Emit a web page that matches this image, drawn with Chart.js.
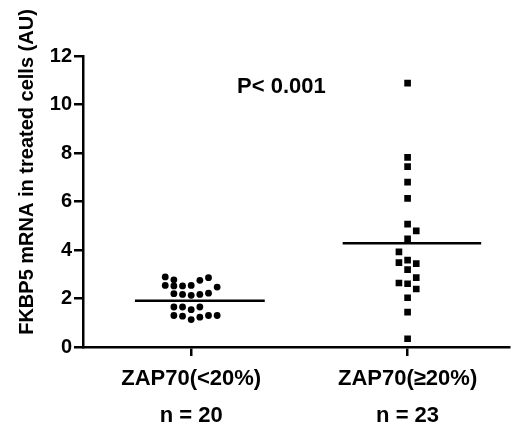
<!DOCTYPE html>
<html>
<head>
<meta charset="utf-8">
<script src="https://cdn.jsdelivr.net/npm/chart.js@4/dist/chart.umd.min.js"></script>
<style>
  html, body { margin: 0; padding: 0; background: #fff; }
  #wrap { width: 514px; height: 437px; position: relative; }
</style>
</head>
<body>
<div id="wrap"><canvas id="chart"></canvas></div>
<script>
// groups on the x axis
const categories = ['ZAP70(<20%)', 'ZAP70(\u226520%)']
const countLabels = ['n = 20', 'n = 23']
const xTicks = [0, 1]
const yTicks = [0, 2, 4, 6, 8, 10, 12]

// ZAP70 < 20% (circles), x = group index + horizontal scatter
const lowX = [-0.12, -0.08, 0.04, 0.08,
              -0.12, -0.08, -0.04, 0, 0.12,
              -0.08, -0.04, 0, 0.04, 0.08,
              -0.08, -0.04, 0, 0.04,
              -0.08, -0.04, 0, 0.04, 0.08, 0.12]
const lowY = [2.89, 2.77, 2.75, 2.86,
              2.54, 2.52, 2.52, 2.54, 2.47,
              2.20, 2.17, 2.13, 2.17, 2.22,
              1.65, 1.65, 1.54, 1.65,
              1.30, 1.27, 1.13, 1.23, 1.30, 1.30]

// ZAP70 >= 20% (squares)
const highX = [1, 1, 1, 1, 1, 1, 1.04, 1, 0.96, 0.96,
               1, 1.04, 1, 1.04, 0.96, 1, 1.04, 1, 1, 1]
const highY = [10.88, 7.82, 7.44, 6.80, 6.13, 5.07, 4.79, 4.46, 3.92, 3.48,
               3.58, 3.44, 3.19, 2.86, 2.64, 2.61, 2.39, 2.03, 1.44, 0.34]

// mean bars
const means = [1.91, 4.28]
const meanFrom = [-0.26, 0.70]
const meanTo = [0.34, 1.34]

const pValueText = 'P< 0.001'
const pValueAt = [0.417, 10.74]
const yTitle = 'FKBP5 mRNA in treated cells (AU)'

const FONT = "'Liberation Sans', Arial, sans-serif"
Chart.defaults.font.family = FONT
Chart.defaults.color = '#000'

function toPoints(xs, ys){
    return xs.map((x, i) => ({x: x, y: ys[i]}))
}

function meanLine(i){
    return {
        type: 'line',
        data: [{x: meanFrom[i], y: means[i]}, {x: meanTo[i], y: means[i]}],
        borderColor: '#000',
        borderWidth: 2.5,
        pointRadius: 0,
        showLine: true
    }
}

const textPlugin = {
    id: 'extraText',
    afterDraw(chart){
        const ctx = chart.ctx
        const sx = chart.scales.x, sy = chart.scales.y
        ctx.save()
        ctx.fillStyle = '#000'
        ctx.font = 'bold 22px ' + FONT
        ctx.textAlign = 'center'
        ctx.textBaseline = 'middle'
        ctx.fillText(pValueText, sx.getPixelForValue(pValueAt[0]), sy.getPixelForValue(pValueAt[1]))
        // y axis title, rotated
        ctx.translate(33, 172)
        ctx.rotate(-Math.PI / 2)
        ctx.font = 'bold 20px ' + FONT
        ctx.textBaseline = 'alphabetic'
        ctx.fillText(yTitle, 0, 0)
        ctx.restore()
    }
}

new Chart(document.getElementById('chart'), {
    type: 'scatter',
    data: {
        datasets: [
            {
                data: toPoints(lowX, lowY),
                pointStyle: 'circle',
                pointRadius: 3.4,
                pointBorderWidth: 0,
                backgroundColor: '#000'
            },
            {
                data: toPoints(highX, highY),
                pointStyle: 'rect',
                pointRadius: 4.7,
                pointBorderWidth: 0,
                backgroundColor: '#000'
            },
            meanLine(0),
            meanLine(1)
        ]
    },
    options: {
        responsive: true,
        maintainAspectRatio: false,
        animation: false,
        layout: { padding: { top: 56, left: 0, right: 0, bottom: 0 } },
        plugins: {
            legend: { display: false },
            tooltip: { enabled: false }
        },
        scales: {
            x: {
                type: 'linear',
                min: -0.5,
                max: 1.47,
                afterBuildTicks: (scale) => { scale.ticks = xTicks.map(v => ({value: v})) },
                afterFit: (scale) => { scale.height = 90 },
                grid: { drawOnChartArea: false, color: '#000', lineWidth: 2.5, tickLength: 9 },
                border: { color: '#000', width: 2.5 },
                ticks: {
                    padding: 4,
                    maxRotation: 0,
                    font: { size: 22, weight: 'bold', lineHeight: 1.68 },
                    callback: (v) => [categories[v], countLabels[v]]
                }
            },
            y: {
                min: 0,
                max: 12,
                afterBuildTicks: (scale) => { scale.ticks = yTicks.map(v => ({value: v})) },
                afterFit: (scale) => { scale.width = 83 },
                grid: { drawOnChartArea: false, color: '#000', lineWidth: 2.5, tickLength: 9 },
                border: { color: '#000', width: 2.5 },
                ticks: {
                    padding: 2,
                    font: { size: 20, weight: 'bold' }
                }
            }
        }
    },
    plugins: [textPlugin]
});
</script>
</body>
</html>
